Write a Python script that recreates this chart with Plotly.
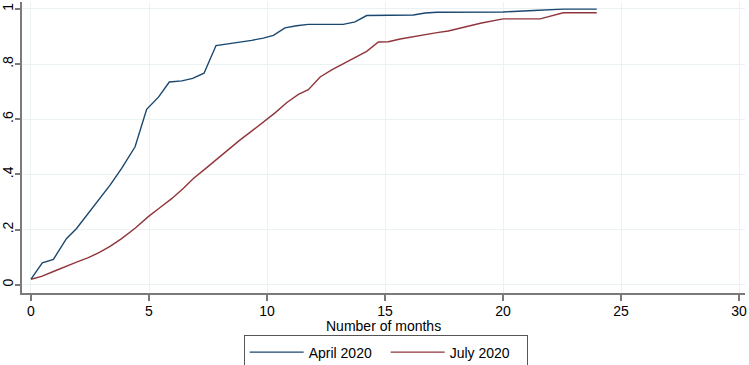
import plotly.graph_objects as go

# April 2020 cohort
april_x = [0, 0.48, 0.95, 1.5, 1.93, 2.4, 2.85, 3.35, 3.84, 4.41, 4.90, 5.40, 5.86,
           6.39, 6.85, 7.33, 7.84, 8.36, 8.86, 9.35, 9.84, 10.27, 10.76, 11.25, 11.75,
           13.23, 13.73, 14.22, 16.2, 16.7, 17.2, 20.0, 21.3, 22.55, 23.97]
april_y = [0.02, 0.079, 0.092, 0.167, 0.204, 0.255, 0.307, 0.361, 0.422, 0.50, 0.636, 0.680, 0.735,
           0.739, 0.748, 0.767, 0.867, 0.873, 0.880, 0.886, 0.894, 0.904, 0.931, 0.939, 0.944,
           0.944, 0.953, 0.976, 0.978, 0.985, 0.988, 0.989, 0.994, 0.999, 0.999]

# July 2020 cohort
july_x = [0, 0.45, 0.95, 1.45, 1.93, 2.43, 2.9, 3.35, 3.84, 4.41, 4.97, 5.47, 5.96, 6.46,
          6.88, 7.38, 7.87, 8.36, 8.86, 9.35, 9.84, 10.34, 10.83, 11.33, 11.75, 12.25,
          12.74, 13.23, 13.73, 14.22, 14.72, 15.14, 15.64, 16.2, 16.7, 17.2, 17.68, 18.18,
          18.6, 19.09, 19.58, 20.0, 21.57, 22.06, 22.55, 23.97]
july_y = [0.02, 0.030, 0.048, 0.066, 0.082, 0.098, 0.117, 0.139, 0.167, 0.205, 0.247, 0.28, 0.312, 0.35,
          0.385, 0.42, 0.455, 0.49, 0.525, 0.557, 0.59, 0.623, 0.66, 0.69, 0.707, 0.753,
          0.779, 0.801, 0.822, 0.846, 0.880, 0.881, 0.891, 0.90, 0.908, 0.914, 0.920, 0.929,
          0.939, 0.949, 0.957, 0.964, 0.964, 0.976, 0.986, 0.986]

x_ticks = [0, 5, 10, 15, 20, 25, 30]
y_ticks = [0, 0.2, 0.4, 0.6, 0.8, 1]
y_tick_labels = ["0", ".2", ".4", ".6", ".8", "1"]
x_title = "Number of months"

FONT = "Liberation Sans, Arial, sans-serif"
AXIS = "#7a7a7a"
GRID = "#eaf2f3"

fig = go.Figure()
fig.add_trace(go.Scatter(x=april_x, y=april_y, mode="lines", name="April 2020",
                         line=dict(color="#1a476f", width=1.4)))
fig.add_trace(go.Scatter(x=july_x, y=july_y, mode="lines", name="July 2020",
                         line=dict(color="#90353b", width=1.4)))

fig.add_annotation(text=x_title, xref="paper", yref="paper", x=0.5, y=-0.113,
                   xanchor="center", yanchor="middle", showarrow=False,
                   font=dict(size=14, color="#000000"))

fig.update_layout(
    width=749, height=365,
    margin=dict(l=22, r=4, t=2, b=72, autoexpand=False),
    paper_bgcolor="white", plot_bgcolor="white",
    font=dict(family=FONT, size=14, color="#000000"),
    showlegend=True,
    legend=dict(orientation="h", x=0.503, xanchor="center", y=-0.146, yanchor="top",
                bordercolor="#555555", borderwidth=1, bgcolor="white",
                font=dict(size=14), itemwidth=54, entrywidth=72, entrywidthmode="pixels",
                traceorder="normal"),
    xaxis=dict(range=[-0.381, 30.25], tickvals=x_ticks, ticks="outside", ticklen=6,
               tickwidth=1.5, tickcolor=AXIS, showline=True, linecolor=AXIS, linewidth=2,
               ticklabelstandoff=-2,
               showgrid=True, gridcolor=GRID, gridwidth=1, zeroline=False, automargin=False),
    yaxis=dict(range=[-0.030, 1.025], tickvals=y_ticks, ticktext=y_tick_labels,
               tickangle=-90, ticks="outside", ticklen=5, tickwidth=1.5, tickcolor=AXIS,
               ticklabelstandoff=-4,
               showline=True, linecolor=AXIS, linewidth=2, showgrid=True, automargin=False,
               gridcolor=GRID, gridwidth=1, zeroline=False),
)

fig.write_html("out.html", config={"displayModeBar": False},
               post_script="document.body.style.margin='0';")
